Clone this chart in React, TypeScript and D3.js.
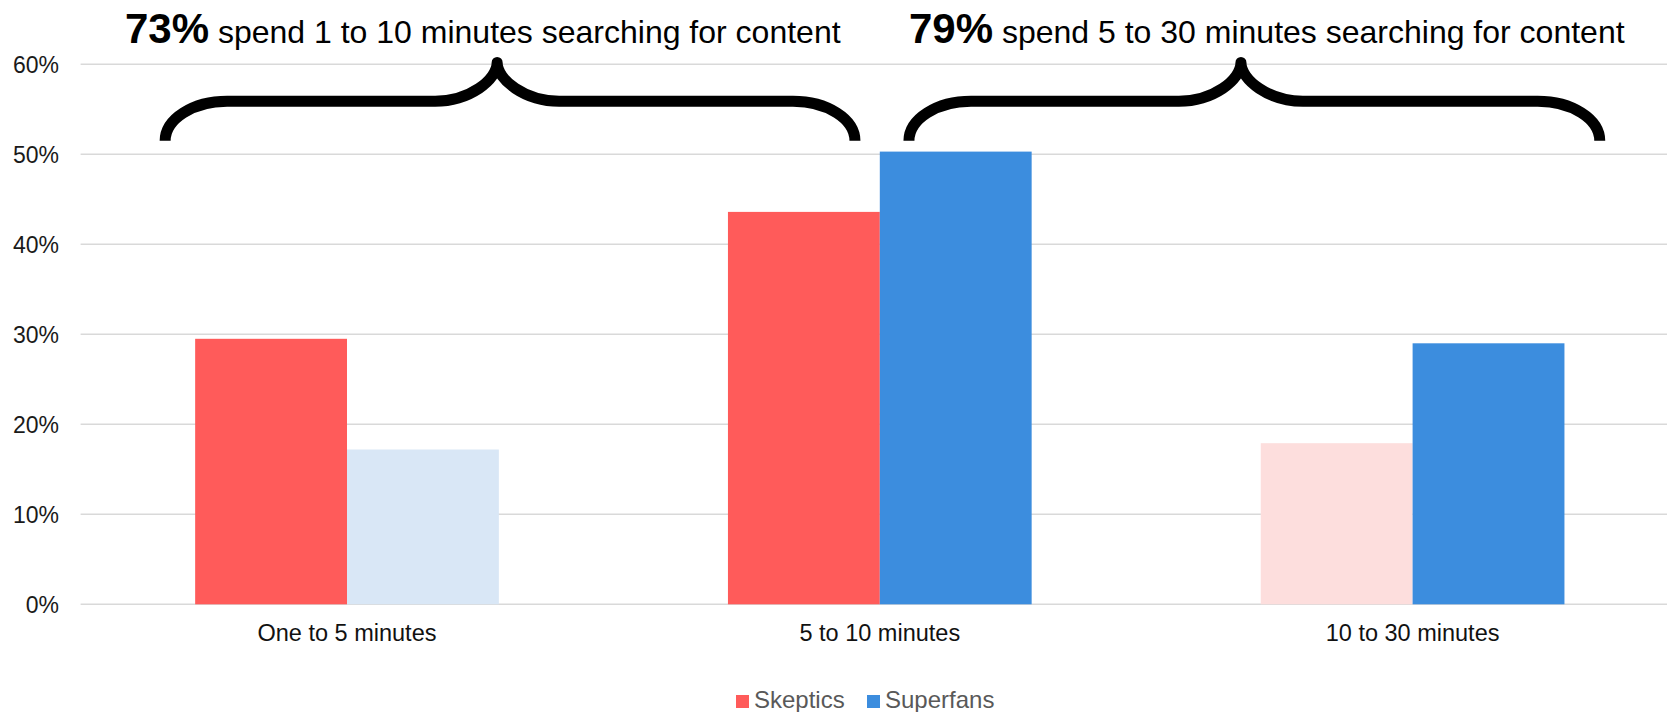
import React from "react";
import * as d3 from "d3";

const categories = ["One to 5 minutes", "5 to 10 minutes", "10 to 30 minutes"];
const seriesNames = ["Skeptics", "Superfans"];
const skeptics = [0.295, 0.436, 0.179];
const superfans = [0.172, 0.503, 0.29];
const skepticsHighlighted = [true, true, false];
const superfansHighlighted = [false, true, true];
const yTicks = [0, 0.1, 0.2, 0.3, 0.4, 0.5, 0.6];

const callouts = [
  { pct: "73%", text: " spend 1 to 10 minutes searching for content" },
  { pct: "79%", text: " spend 5 to 30 minutes searching for content" },
];

const W = 1667;
const H = 712;
const FONT = "'Liberation Sans', Arial, Helvetica, sans-serif";

const colors = {
  Skeptics: { on: "#FF5B5A", off: "#FDDEDD" },
  Superfans: { on: "#3C8DDE", off: "#D9E7F6" },
};

function bracePath(x0: number, xt: number, x1: number, yEnd: number, yMid: number, yTip: number, rx: number) {
  const k = 0.552;
  const ry1 = yEnd - yMid;
  const ry2 = yMid - yTip;
  return [
    `M${x0},${yEnd}`,
    `C${x0},${yEnd - k * ry1} ${x0 + rx - k * rx},${yMid} ${x0 + rx},${yMid}`,
    `L${xt - rx},${yMid}`,
    `C${xt - rx + k * rx},${yMid} ${xt},${yMid - k * ry2} ${xt},${yTip}`,
    `C${xt},${yMid - k * ry2} ${xt + rx - k * rx},${yMid} ${xt + rx},${yMid}`,
    `L${x1 - rx},${yMid}`,
    `C${x1 - rx + k * rx},${yMid} ${x1},${yEnd - k * ry1} ${x1},${yEnd}`,
  ].join(" ");
}

export default function App() {
  const plotLeft = 80.6;
  const plotRight = 1679;
  const y = d3.scaleLinear().domain([0, 0.6]).range([604.3, 64.3]);
  const x = d3
    .scaleBand<string>()
    .domain(categories)
    .range([plotLeft, plotRight])
    .paddingInner(0.43)
    .paddingOuter(0.215);
  const xs = d3.scaleBand<string>().domain(seriesNames).range([0, x.bandwidth()]);

  const rows = categories.map((c, i) => ({
    c,
    vals: [
      { s: "Skeptics", v: skeptics[i], hi: skepticsHighlighted[i] },
      { s: "Superfans", v: superfans[i], hi: superfansHighlighted[i] },
    ],
  }));

  const c0 = x(categories[0])!;
  const c1 = x(categories[1])!;
  const c2 = x(categories[2])!;
  const bw = x.bandwidth();
  const braces = [
    { x0: c0 - 30, xt: c0 + 302, x1: c1 + 127, textX: 125 },
    { x0: c1 + 181, xt: c1 + 513, x1: c2 + 339, textX: 909 },
  ];

  return (
    <svg
      width={W}
      height={H}
      style={{ position: "absolute", left: 0, top: 0, display: "block", background: "#fff" }}
      fontFamily={FONT}
    >
      {/* gridlines */}
      {yTicks.map((t) => (
        <g key={t}>
          <line x1={plotLeft} x2={W} y1={y(t)} y2={y(t)} stroke="#D9D9D9" strokeWidth={1.6} />
          <text x={59} y={y(t) + 8.2} textAnchor="end" fontSize={23} fill="#1a1a1a">
            {d3.format(".0%")(t)}
          </text>
        </g>
      ))}

      {/* bars */}
      {rows.map((r) => (
        <g key={r.c} transform={`translate(${x(r.c)},0)`}>
          {r.vals.map((d) => {
            const col = (colors as any)[d.s];
            return (
              <rect
                key={d.s}
                x={xs(d.s)}
                y={y(d.v)}
                width={xs.bandwidth()}
                height={y(0) - y(d.v)}
                fill={d.hi ? col.on : col.off}
              />
            );
          })}
          <text x={bw / 2} y={641} textAnchor="middle" fontSize={23.5} fill="#111">
            {r.c}
          </text>
        </g>
      ))}

      {/* braces & callouts */}
      {braces.map((b, i) => (
        <g key={i}>
          <path
            d={bracePath(b.x0, b.xt, b.x1, y(0.515), y(0.559), y(0.602), 62)}
            fill="none"
            stroke="#000"
            strokeWidth={11}
            strokeLinejoin="round"
          />
          <text x={b.textX} y={42.5} fill="#000">
            <tspan fontSize={42} fontWeight="bold">
              {callouts[i].pct}
            </tspan>
            <tspan fontSize={32}>{callouts[i].text}</tspan>
          </text>
        </g>
      ))}

      {/* legend */}
      <g>
        <rect x={736} y={695} width={13} height={13} fill={colors.Skeptics.on} />
        <text x={754} y={708} fontSize={24} fill="#595959">
          Skeptics
        </text>
        <rect x={867} y={695} width={13} height={13} fill={colors.Superfans.on} />
        <text x={885} y={708} fontSize={24} fill="#595959">
          Superfans
        </text>
      </g>
    </svg>
  );
}
